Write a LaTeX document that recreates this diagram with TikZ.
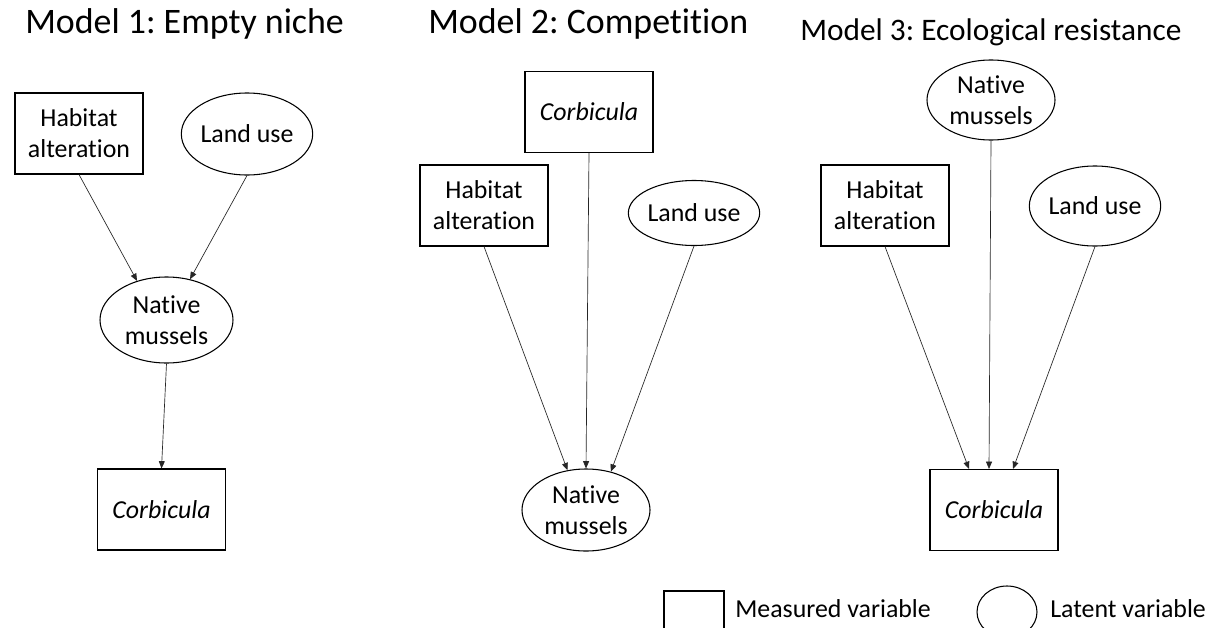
\documentclass[tikz,border=0pt]{standalone}
\usepackage{fontspec}
\setmainfont{Carlito}[Ligatures=NoCommon]
\usetikzlibrary{arrows.meta, shapes.geometric, calc}
\newcommand\nodefont{\fontsize{19.4}{23.3}\selectfont}
\newcommand\bigtitlefont{\fontsize{26.9}{32}\selectfont}
\newcommand\smalltitlefont{\fontsize{23.5}{28}\selectfont}
\frenchspacing

\begin{document}
\begin{tikzpicture}[x=0.75pt, y=-0.75pt, >={Triangle[length=5.5pt, width=4.5pt]},
  measured/.style={draw, line width=0.8pt, minimum width=96pt, minimum height=60.75pt,
    inner sep=0pt, align=center, font=\nodefont},
  latent/.style={draw, ellipse, line width=0.8pt, inner sep=0pt, align=center, font=\nodefont},
  link/.style={->, line width=0.5pt, black!85}]

% Canvas (pixel grid, origin top left)
\clip (0,0) rectangle (1224,628);
\fill[white] (0,0) rectangle (1224,628);

% Titles
\node[anchor=base west, inner sep=0pt, font=\bigtitlefont] (title1) at (25,33) {Model 1: Empty niche};
\node[anchor=base west, inner sep=0pt, font=\bigtitlefont] (title2) at (428,33) {Model 2: Competition};
\node[anchor=base west, inner sep=0pt, font=\smalltitlefont] (title3) at (800,40) {Model 3: Ecological resistance};

% Model 1
\node[measured] (hab1) at (79,133.5) {Habitat\\alteration};
\node[latent, minimum width=96.75pt, minimum height=61.5pt] (land1) at (247,134) {Land use};
\node[latent, minimum width=99.75pt, minimum height=64.5pt] (nm1) at (166.5,320) {Native\\mussels};
\node[measured] (cor1) at (161.5,509.5) {\itshape Corbicula};
\draw[link] (hab1.south) -- (nm1.127);
\draw[link] (land1.south) -- (nm1.60);
\draw[link] (nm1.south) -- (cor1.north);

% Model 2
\node[measured] (cor2) at (589,112) {\itshape Corbicula};
\node[measured] (hab2) at (484,205.5) {Habitat\\alteration};
\node[latent, minimum width=96pt, minimum height=48.75pt] (land2) at (694,213) {Land use};
\node[latent, minimum width=96pt, minimum height=61.5pt] (nm2) at (586,510) {Native\\mussels};
\draw[link] (hab2.south) -- (nm2.115);
\draw[link] (cor2.south) -- (nm2.90);
\draw[link] (land2.south) -- (nm2.57);

% Model 3
\node[latent, minimum width=96pt, minimum height=60pt] (nm3) at (991,100) {Native\\mussels};
\node[measured] (hab3) at (885,205.5) {Habitat\\alteration};
\node[latent, minimum width=96pt, minimum height=60pt] (land3) at (1095,206) {Land use};
\node[measured] (cor3) at (994,510) {\itshape Corbicula};
\draw[link] (hab3.south) -- ($(cor3.north)+(-25,0)$);
\draw[link] (nm3.south) -- ($(cor3.north)+(-5,0)$);
\draw[link] (land3.south) -- ($(cor3.north)+(19,0)$);

% Legend (cut by the lower edge)
\node[draw, line width=0.8pt, minimum width=45pt, minimum height=45pt, inner sep=0pt] (keybox) at (694,621) {};
\node[anchor=west, inner sep=0pt, font=\nodefont] (keymeas) at (735,609) {Measured variable};
\node[draw, ellipse, line width=0.8pt, minimum width=45pt, minimum height=39pt, inner sep=0pt] (keyell) at (1007,612) {};
\node[anchor=west, inner sep=0pt, font=\nodefont] (keylat) at (1050,609) {Latent variable};

\end{tikzpicture}
\end{document}
